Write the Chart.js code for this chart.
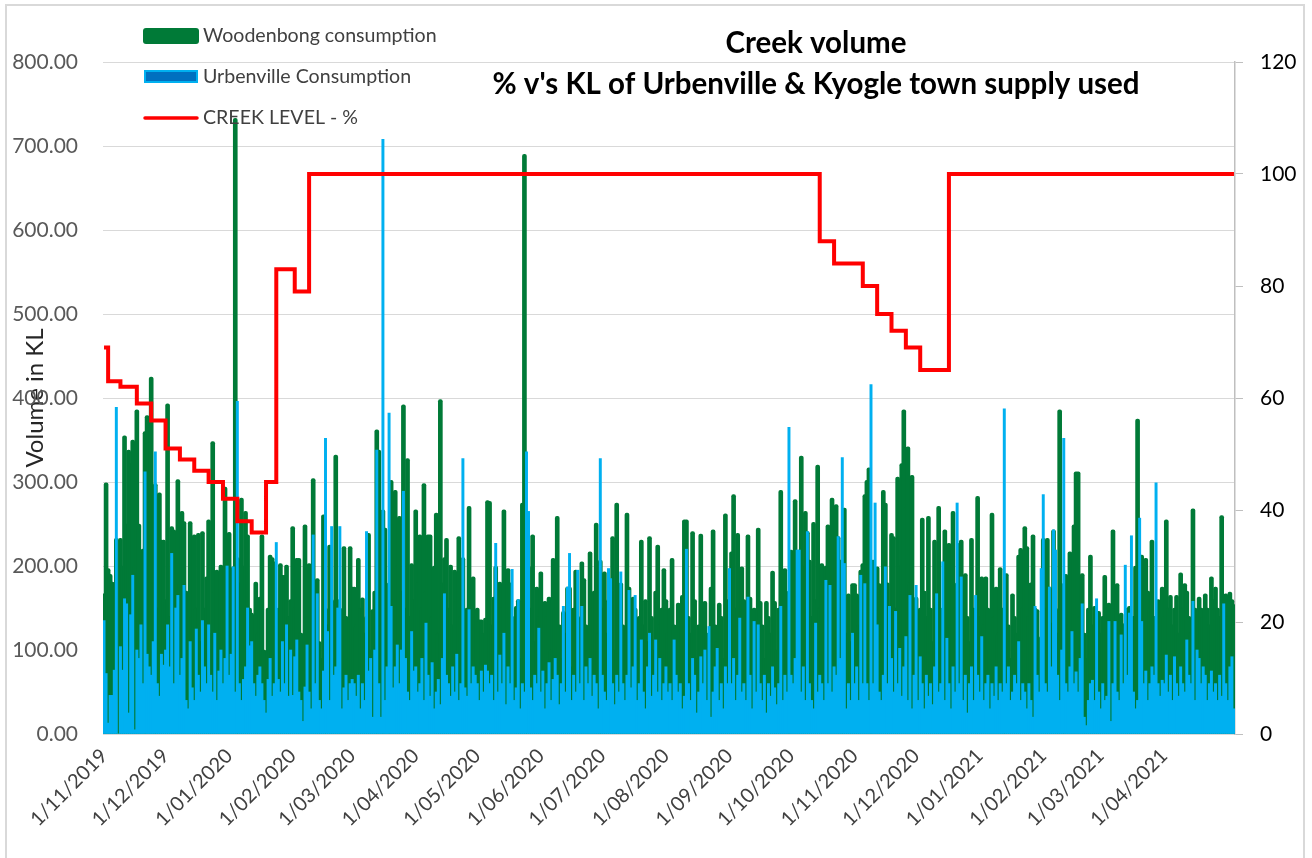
<!DOCTYPE html>
<html>
<head>
<meta charset="utf-8">
<title>Creek volume</title>
<script src="https://cdn.jsdelivr.net/npm/chart.js@4.4.0/dist/chart.umd.min.js"></script>
<style>
  html, body { margin: 0; padding: 0; background: #ffffff; }
  #wrap { width: 1312px; height: 858px; position: relative; }
</style>
</head>
<body>
<div id="wrap"><canvas id="myChart"></canvas></div>
<script>
// month tick labels and the day index (from 1/11/2019) each one sits on
const monthLabels = ['1/11/2019', '1/12/2019', '1/01/2020', '1/02/2020', '1/03/2020', '1/04/2020',
    '1/05/2020', '1/06/2020', '1/07/2020', '1/08/2020', '1/09/2020', '1/10/2020', '1/11/2020',
    '1/12/2020', '1/01/2021', '1/02/2021', '1/03/2021', '1/04/2021'];
const monthStartDays = [0, 30, 61, 92, 121, 152, 182, 213, 243, 274, 305, 335, 366, 396, 427, 458, 486, 517];

// daily KL, 1/11/2019 .. 5/05/2021 (one row per month)
const woodenbong = [
    167,299,197,190,181,175,233,0,233,200,355,250,338,322,350,200,386,250,150,220,360,379,200,425,180,298,150,287,231,231,
    160,393,140,247,243,120,303,180,265,253,170,60,253,140,237,150,239,110,241,150,187,255,120,348,170,195,90,201,150,294,180,
    240,180,199,733,210,180,281,200,265,237,150,144,90,181,120,163,237,100,60,150,213,210,205,130,150,203,189,189,201,140,160,
    247,150,209,209,120,60,249,140,203,100,304,150,185,110,90,261,150,130,225,160,90,332,160,150,60,223,140,90,223,
    175,175,130,209,150,162,120,140,239,100,148,170,362,338,130,267,245,150,180,302,160,290,200,259,170,392,150,328,140,203,160,
    267,180,237,150,298,170,237,237,140,200,263,120,398,180,210,233,150,201,130,195,160,235,140,210,100,150,271,120,187,140,
    150,136,136,120,138,278,277,130,163,200,110,181,150,267,120,197,180,140,80,152,160,90,275,690,265,200,150,237,110,175,140,
    193,120,158,140,163,100,209,150,259,130,90,146,120,175,175,80,150,195,140,110,205,185,130,100,217,150,170,251,120,207,
    150,193,120,160,140,235,100,275,150,180,130,110,263,175,120,163,150,90,140,231,130,160,110,235,140,100,170,225,130,150,197,
    160,120,150,209,130,100,156,140,165,255,255,140,120,241,160,90,130,238,150,158,120,100,175,243,130,110,156,140,90,262,160,
    150,217,285,150,239,130,199,160,110,237,163,100,150,120,245,158,130,90,158,140,120,194,158,100,150,290,130,197,110,170,
    219,150,279,170,219,331,200,265,241,207,140,252,160,320,150,203,120,200,249,177,281,150,273,235,207,200,269,120,167,110,179,
    179,167,130,195,203,285,302,317,200,207,150,199,179,130,290,275,180,130,239,235,150,306,200,322,386,270,342,180,308,140,
    163,120,150,257,170,140,259,150,110,231,160,271,150,140,243,170,227,130,265,150,180,227,231,120,191,140,110,233,150,130,283,
    140,187,130,187,150,100,263,140,175,120,198,150,100,191,130,90,167,140,120,213,221,150,247,223,140,180,237,150,148,90,116,
    233,150,233,175,132,243,150,120,386,179,150,190,130,217,215,249,312,312,140,191,120,90,150,213,130,152,110,146,
    120,140,189,150,156,100,243,150,179,120,144,100,132,150,152,120,140,200,375,150,213,140,209,170,150,231,140,130,160,100,175,
    140,255,150,165,130,150,165,120,192,150,179,170,140,120,268,150,140,163,150,140,167,150,130,187,160,175,150,140,260,150,
    167,140,169,160,154
];

const urbenville = [
    135,72,13,46,46,76,389,0,104,76,161,155,25,142,189,5,100,90,130,60,312,95,80,70,110,336,60,45,95,82,
    100,130,80,215,60,150,165,70,90,177,40,30,110,55,40,125,70,50,135,80,60,130,70,50,120,40,75,100,60,90,200,
    70,95,199,50,396,60,40,65,80,150,105,110,60,45,70,80,60,40,25,65,90,45,60,228,65,50,110,60,130,45,100,
    46,92,112,50,40,15,56,106,50,30,237,60,167,40,30,75,352,122,40,247,70,80,150,247,30,55,70,40,60,
    65,60,45,70,30,60,40,241,75,90,20,100,338,60,20,708,40,80,382,152,55,80,106,60,100,289,90,50,40,122,75,
    80,50,60,90,40,132,70,45,85,30,50,65,35,90,167,70,60,45,80,50,95,40,60,328,55,45,148,60,80,70,
    60,40,75,50,82,75,60,70,40,227,50,94,60,120,35,80,60,196,40,55,160,30,60,50,336,265,55,40,70,60,126,
    50,75,30,60,85,40,65,90,70,35,60,152,50,175,215,40,70,50,195,60,152,40,80,60,90,45,70,60,30,328,
    70,50,40,197,185,60,35,70,50,193,60,40,70,171,55,80,165,40,60,112,50,30,80,120,45,70,112,50,90,40,60,
    80,50,60,40,112,70,50,60,30,45,220,60,40,90,70,25,50,92,60,100,40,128,20,50,80,102,40,60,30,80,60,
    197,60,90,40,70,138,50,60,40,163,70,30,134,50,130,60,40,70,25,60,45,80,55,35,60,152,40,70,50,365,
    70,60,90,219,219,50,80,40,241,60,40,30,132,50,70,60,40,183,60,177,50,80,70,235,90,329,203,30,60,40,120,
    60,80,40,189,60,179,60,40,416,60,275,130,50,40,70,199,60,152,90,50,146,60,102,45,80,116,40,165,30,70,
    177,40,92,60,30,70,45,60,35,80,167,50,60,205,40,114,60,30,80,50,275,60,187,40,70,25,60,80,40,165,70,
    50,116,40,60,70,30,60,45,80,40,60,50,387,60,80,40,50,70,60,110,40,60,50,30,60,40,20,152,70,50,197,
    285,60,50,175,80,243,219,70,40,100,352,60,50,80,122,60,74,50,90,155,20,10,40,60,64,40,161,50,
    30,60,40,45,134,15,60,134,50,40,118,60,201,70,144,236,50,30,40,257,134,60,75,40,60,80,70,299,60,45,64,
    60,94,50,70,40,92,60,45,80,60,50,112,70,60,158,40,100,90,60,80,70,40,60,75,50,60,40,70,45,155,
    60,40,80,92,30
];

// creek level %, day index where each new level starts
const creekDays = [0, 2, 8, 16, 23, 30, 37, 44, 51, 58, 65, 72, 79, 84, 93, 100, 349, 356, 370, 377, 384, 391, 398, 412, 551];
const creekLevels = [69, 63, 62, 59, 56, 51, 49, 47, 45, 42, 38, 36, 45, 83, 79, 100, 88, 84, 80, 75, 72, 69, 65, 100, 100];

const titleLines = ['Creek volume', "% v's KL of Urbenville & Kyogle town supply used"];

const GREEN = '#007A37';
const BLUE = '#00B0F0';
const RED = '#FF0000';

const ctx = document.getElementById('myChart').getContext('2d');

const dayIndex = woodenbong.map((v, i) => i);
const creekPoints = creekDays.map((d, i) => ({x: d, y: creekLevels[i]}));

// font size that makes text span a given width
function fitSize(c, text, weight, target) {
    c.font = weight + ' 20px Lato';
    return 20 * target / c.measureText(text).width;
}

// chart frame, title and legend drawn straight on the canvas
const chartDecor = {
    id: 'chartDecor',
    beforeDraw(chart) {
        const c = chart.ctx;
        c.save();
        c.strokeStyle = '#d9d9d9';
        c.lineWidth = 2;
        c.strokeRect(6, 5, 1298, 880);
        c.restore();
    },
    afterDraw(chart) {
        const c = chart.ctx;
        c.save();
        c.fillStyle = '#000000';
        c.textAlign = 'center';
        c.textBaseline = 'middle';
        let s = fitSize(c, titleLines[1], 'bold', 647);
        c.font = 'bold ' + s.toFixed(1) + 'px Lato';
        c.fillText(titleLines[0], 816, 43);
        c.fillText(titleLines[1], 816, 84);

        // legend
        s = fitSize(c, 'Woodenbong consumption', 'normal', 234);
        c.font = s.toFixed(1) + 'px Lato';
        c.textAlign = 'left';
        c.fillStyle = '#404040';
        c.fillText('Woodenbong consumption', 203, 36);
        c.fillText('Urbenville Consumption', 203, 77);
        c.fillText('CREEK LEVEL - %', 203, 118);

        c.fillStyle = GREEN;
        c.beginPath();
        c.roundRect(143, 28, 56, 16, 3);
        c.fill();

        c.fillStyle = '#0070C0';
        c.strokeStyle = BLUE;
        c.lineWidth = 2;
        c.fillRect(145, 71, 52, 11);
        c.strokeRect(145, 71, 52, 11);

        c.strokeStyle = RED;
        c.lineWidth = 3.5;
        c.lineCap = 'round';
        c.beginPath();
        c.moveTo(145, 118);
        c.lineTo(197, 118);
        c.stroke();
        c.restore();
    }
};

const myChart = new Chart(ctx, {
    type: 'bar',
    data: {
        labels: dayIndex,
        datasets: [{
            type: 'line',
            label: 'CREEK LEVEL - %',
            data: creekPoints,
            yAxisID: 'y1',
            borderColor: RED,
            borderWidth: 4,
            pointRadius: 0,
            stepped: true,
            fill: false,
            order: 0
        }, {
            label: 'Urbenville Consumption',
            data: urbenville,
            yAxisID: 'y',
            backgroundColor: BLUE,
            barThickness: 2.3,
            grouped: false,
            order: 1
        }, {
            label: 'Woodenbong consumption',
            data: woodenbong,
            yAxisID: 'y',
            backgroundColor: GREEN,
            barThickness: 4,
            borderRadius: 2,
            grouped: false,
            order: 2
        }]
    },
    options: {
        responsive: true,
        maintainAspectRatio: false,
        animation: false,
        layout: {
            padding: {top: 62, left: 0, right: 0, bottom: 0}
        },
        plugins: {
            legend: {display: false},
            title: {display: false},
            tooltip: {enabled: false}
        },
        scales: {
            x: {
                type: 'linear',
                min: -0.5,
                max: 551.5,
                offset: false,
                grid: {display: false, drawTicks: false},
                border: {display: true, color: '#d9d9d9'},
                ticks: {
                    autoSkip: false,
                    maxRotation: 45,
                    minRotation: 45,
                    padding: 10,
                    color: '#404040',
                    font: {size: 20, family: 'Lato'},
                    callback: (value) => {
                        const i = monthStartDays.indexOf(value);
                        return i >= 0 ? monthLabels[i] : '';
                    }
                },
                afterBuildTicks: (scale) => {
                    scale.ticks = monthStartDays.map(v => ({value: v}));
                },
                afterFit: (scale) => { scale.height = 124; }
            },
            y: {
                position: 'left',
                min: 0,
                max: 800,
                grid: {color: '#d9d9d9', drawTicks: false},
                border: {display: false},
                ticks: {
                    stepSize: 100,
                    padding: 25,
                    color: '#595959',
                    font: {size: 21, family: 'Lato'},
                    callback: (value) => value.toFixed(2)
                },
                title: {
                    display: true,
                    text: 'Volume in KL',
                    color: '#262626',
                    font: {size: 24, family: 'Lato'},
                    padding: {top: 21, bottom: 0}
                },
                afterFit: (scale) => { scale.width = 103; }
            },
            y1: {
                position: 'right',
                min: 0,
                max: 120,
                grid: {drawOnChartArea: false, drawTicks: true, tickLength: 8, color: '#bfbfbf'},
                border: {display: true, color: '#bfbfbf', width: 1.5},
                ticks: {
                    stepSize: 20,
                    padding: 17,
                    color: '#000000',
                    font: {size: 21, family: 'Lato'}
                },
                afterFit: (scale) => { scale.width = 77; }
            }
        }
    },
    plugins: [chartDecor]
});
</script>
</body>
</html>
